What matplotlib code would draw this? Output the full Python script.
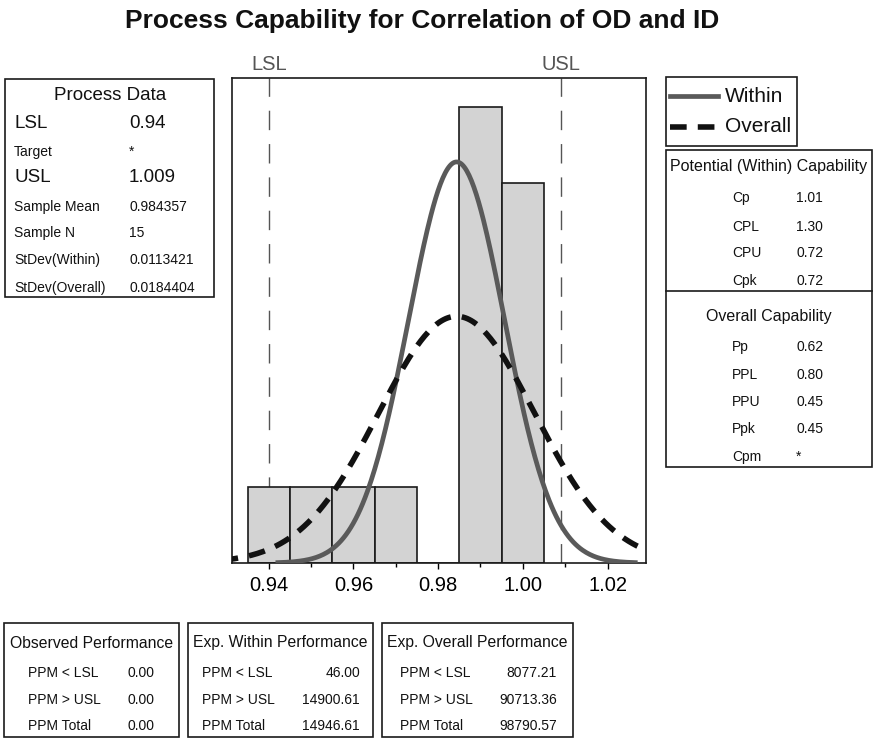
import numpy as np
import matplotlib
matplotlib.use("Agg")
import matplotlib.pyplot as plt
from matplotlib.patches import Rectangle
from matplotlib.lines import Line2D

plt.rcParams['font.family'] = ['Liberation Sans', 'DejaVu Sans']

# data
bin_centers = [0.94, 0.95, 0.96, 0.97, 0.98, 0.99, 1.00]
counts = [1, 1, 1, 1, 0, 6, 5]
bin_width = 0.01
lsl = 0.94
usl = 1.009
mean = 0.984357
sd_within = 0.0113421
sd_overall = 0.0184404
n = 15
xticks = [0.94, 0.96, 0.98, 1.00, 1.02]

process_labels = ["LSL", "Target", "USL", "Sample Mean", "Sample N", "StDev(Within)", "StDev(Overall)"]
process_values = ["0.94", "*", "1.009", "0.984357", "15", "0.0113421", "0.0184404"]

within_labels = ["Cp", "CPL", "CPU", "Cpk"]
within_values = ["1.01", "1.30", "0.72", "0.72"]
overall_labels = ["Pp", "PPL", "PPU", "Ppk", "Cpm"]
overall_values = ["0.62", "0.80", "0.45", "0.45", "*"]

perf_titles = ["Observed Performance", "Exp. Within Performance", "Exp. Overall Performance"]
perf_labels = ["PPM < LSL", "PPM > USL", "PPM Total"]
perf_values = [["0.00", "0.00", "0.00"],
               ["46.00", "14900.61", "14946.61"],
               ["8077.21", "90713.36", "98790.57"]]

W, H = 880, 740
fig = plt.figure(figsize=(W / 100, H / 100), dpi=100)


def fx(x):
    return x / W


def fy(y):
    return 1 - y / H


def box(x0, y0, x1, y1):
    fig.add_artist(Rectangle((fx(x0), fy(y1)), (x1 - x0) / W, (y1 - y0) / H,
                             transform=fig.transFigure, fill=False, lw=1.2, ec='#1a1a1a'))


def txt(x, y, s, size, **kw):
    fig.text(fx(x), fy(y), s, fontsize=size, va='center', color='#111111', **kw)


# main plot
ax = fig.add_axes([fx(232), fy(563), 414 / W, 485 / H])
ax.bar(bin_centers, counts, width=bin_width, color='#d3d3d3', edgecolor='#1a1a1a',
       lw=1.2, zorder=2)

for sd, style in [(sd_within, dict(color='#5a5a5a', lw=3.4)),
                  (sd_overall, dict(color='#111111', lw=4, dashes=(3, 2)))]:
    xs = np.linspace(mean - 3.72 * sd, mean + 3.72 * sd, 300)
    ys = n * bin_width * np.exp(-0.5 * ((xs - mean) / sd) ** 2) / (sd * np.sqrt(2 * np.pi))
    ax.plot(xs, ys, zorder=3, **style)

for v, name in [(lsl, "LSL"), (usl, "USL")]:
    ax.axvline(v, color='#555555', lw=1, dashes=(14, 10), zorder=1)
    ax.text(v, 1.027, name, transform=ax.get_xaxis_transform(), ha='center', va='center',
            fontsize=14.5, color='#555555')

ax.set_xlim(0.93133, 1.02909)
ax.set_ylim(0, 6.38)
ax.set_yticks([])
ax.set_xticks(xticks)
ax.set_xticklabels(["%.2f" % t for t in xticks])
ax.set_xticks([0.95, 0.97, 0.99, 1.01], minor=True)
ax.tick_params(axis='x', which='major', length=4.5, width=1, labelsize=14.5, pad=5)
ax.tick_params(axis='x', which='minor', length=3, width=1)
for sp in ax.spines.values():
    sp.set_linewidth(1.2)
    sp.set_color('#1a1a1a')

fig.text(fx(422), fy(21), "Process Capability for Correlation of OD and ID",
         fontsize=19, fontweight='bold', ha='center', va='center', color='#111111')

# process data box
box(5, 79, 214, 297)
txt(110, 95, "Process Data", 13.5, ha='center')
ys = [123, 152, 177, 207, 233, 260, 288]
for lab, val, y in zip(process_labels, process_values, ys):
    size = 13.5 if lab in ("LSL", "USL") else 10
    txt(14, y, lab, size)
    txt(129, y, val, size)

# legend box
box(666, 77, 797, 146)
fig.add_artist(Line2D([fx(670), fx(718)], [fy(96)] * 2, color='#5a5a5a', lw=3.4))
fig.add_artist(Line2D([fx(670), fx(718)], [fy(127)] * 2, color='#111111', lw=4, dashes=(3, 2)))
txt(725, 96, "Within", 15)
txt(725, 127, "Overall", 15)

# capability box
box(666, 150, 872, 467)
fig.add_artist(Line2D([fx(666), fx(872)], [fy(291)] * 2, color='#1a1a1a', lw=1.2))
txt(769, 167, "Potential (Within) Capability", 11.5, ha='center')
for lab, val, y in zip(within_labels, within_values, [198, 227, 253, 281]):
    txt(732, y, lab, 10)
    txt(796, y, val, 10)
txt(769, 316, "Overall Capability", 11.5, ha='center')
for lab, val, y in zip(overall_labels, overall_values, [347, 375, 402, 429, 457]):
    txt(732, y, lab, 10)
    txt(796, y, val, 10)

# performance boxes
edges = [(4, 179), (188, 373), (382, 573)]
label_x = [28, 202, 400]
value_x = [154, 360, 557]
for (x0, x1), title, lx, vx, vals in zip(edges, perf_titles, label_x, value_x, perf_values):
    box(x0, 623, x1, 737)
    txt((x0 + x1) / 2, 643, title, 11.3, ha='center')
    for lab, val, y in zip(perf_labels, vals, [673, 700, 726]):
        txt(lx, y, lab, 10)
        txt(vx, y, val, 10, ha='right')

fig.savefig("out.png", dpi=100)
